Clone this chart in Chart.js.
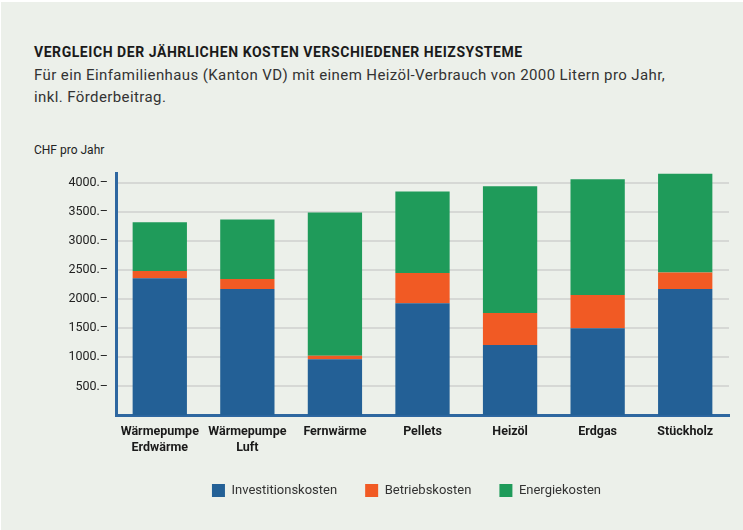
<!DOCTYPE html>
<html>
<head>
<meta charset="utf-8">
<script src="https://cdn.jsdelivr.net/npm/chart.js@4.4.1/dist/chart.umd.min.js"></script>
<style>
  body { margin: 0; background: #fff; font-family: Roboto, "Noto Sans", sans-serif; }
  .panel { position: absolute; left: 1px; top: 2px; width: 742px; height: 528px; background: #ecf0ea; }
  .title { position: absolute; left: 34px; top: 44px; font-size: 14px; font-weight: bold; color: #1a1a1a; letter-spacing: 0.55px; }
  .sub { position: absolute; left: 34px; top: 64px; font-size: 15px; line-height: 22px; color: #333; letter-spacing: 0.4px; }
  .unit { position: absolute; left: 34px; top: 143px; font-size: 12px; color: #222; }
  .wrap { position: absolute; left: 0; top: 158px; width: 743px; height: 370px; }
</style>
</head>
<body>
<div class="panel"></div>
<div class="title">VERGLEICH DER JÄHRLICHEN KOSTEN VERSCHIEDENER HEIZSYSTEME</div>
<div class="sub">Für ein Einfamilienhaus (Kanton VD) mit einem Heizöl-Verbrauch von 2000 Litern pro Jahr,<br>inkl. Förderbeitrag.</div>
<div class="unit">CHF pro Jahr</div>
<div class="wrap"><canvas id="chart"></canvas></div>
<script>
const categories = [['Wärmepumpe', 'Erdwärme'], ['Wärmepumpe', 'Luft'], 'Fernwärme', 'Pellets', 'Heizöl', 'Erdgas', 'Stückholz'];
const investitionskosten = [2360, 2175, 965, 1930, 1210, 1500, 2175];
const betriebskosten = [125, 170, 60, 520, 550, 570, 285];
const energiekosten = [835, 1025, 2465, 1400, 2180, 1990, 1700];
const yTicks = [500, 1000, 1500, 2000, 2500, 3000, 3500, 4000];

// legend sits a bit right of the canvas centre in the original
const legendShift = {
    id: 'legendShift',
    afterLayout(chart) {
        chart.legend.left += 10;
        chart.legend.right += 10;
    }
};

const ctx = document.getElementById('chart').getContext('2d');
new Chart(ctx, {
    type: 'bar',
    data: {
        labels: categories,
        datasets: [
            { label: 'Investitionskosten', data: investitionskosten, backgroundColor: '#236096' },
            { label: 'Betriebskosten', data: betriebskosten, backgroundColor: '#f15a24' },
            { label: 'Energiekosten', data: energiekosten, backgroundColor: '#1f9b5a' }
        ]
    },
    options: {
        responsive: true,
        maintainAspectRatio: false,
        animation: false,
        datasets: { bar: { categoryPercentage: 1, barPercentage: 0.62 } },
        layout: { padding: { left: 64, right: 14, top: 14, bottom: 21 } },
        scales: {
            x: {
                stacked: true,
                grid: { display: false },
                border: { color: '#2e67a0', width: 3 },
                ticks: { color: '#1a1a1a', font: { family: 'Roboto', size: 12.5, weight: 'bold', lineHeight: 1.3 }, maxRotation: 0, padding: 0 }
            },
            y: {
                stacked: true,
                min: 0,
                max: 4160,
                afterFit: scale => { scale.width = 52; },
                afterBuildTicks: scale => { scale.ticks = yTicks.map(v => ({ value: v })); },
                ticks: {
                    color: '#222',
                    font: { family: 'Roboto', size: 12.5 },
                    padding: 8,
                    callback: v => v + '.–'
                },
                grid: { color: '#d6d8d5', lineWidth: 2, drawTicks: false },
                border: { color: '#2e67a0', width: 3 }
            }
        },
        plugins: {
            tooltip: { enabled: false },
            legend: {
                position: 'bottom',
                labels: {
                    boxWidth: 13,
                    boxHeight: 13,
                    padding: 28,
                    color: '#333',
                    font: { family: 'Roboto', size: 13 }
                }
            }
        }
    },
    plugins: [legendShift]
});
</script>
</body>
</html>
